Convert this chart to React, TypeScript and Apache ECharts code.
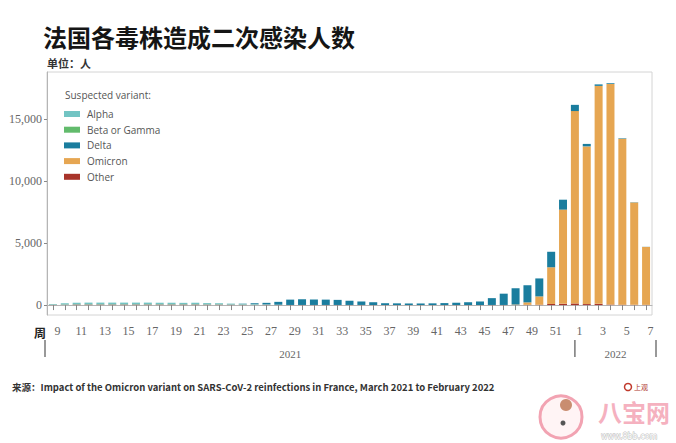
import React, { useEffect, useRef } from 'react';
import * as echarts from 'echarts';

const weeks = ['9','10','11','12','13','14','15','16','17','18','19','20','21','22','23','24','25','26','27','28','29','30','31','32','33','34','35','36','37','38','39','40','41','42','43','44','45','46','47','48','49','50','51','52','1','2','3','4','5','6','7'];

const other = [20,35,40,40,40,40,40,40,40,40,40,40,40,35,35,30,25,25,20,10, 10,10,10,10,10,10,10,5,5,5,5,5,5,5,5,5,5,10,10,10, 20,30,90,100, 130,80,100,40,30,20,20];
const beta = [10,15,20,20,20,20,20,20,20,20,20,20,20,15,15,10,10,10,5,5, 0,0,0,0,0,0,0,0,0,0,0,0,0,0,0,0,0,0,0,0, 0,0,0,0, 0,0,0,0,0,0,0];
const alpha = [50,100,130,140,140,140,140,140,140,130,130,120,130,110,100,80,65,55,35,15, 0,0,0,0,0,0,0,0,0,0,0,0,0,0,0,0,0,0,0,0, 0,0,0,0, 0,0,0,0,0,0,0];
const delta = [0,0,0,0,0,0,0,0,0,0,0,0,0,0,0,0,20,60,120,230, 430,460,440,430,410,340,280,225,145,135,125,125,135,155,185,225,285,550,910,1310, 1380,1450,1250,800, 500,200,120,60,40,20,10];
const omicron = [0,0,0,0,0,0,0,0,0,0,0,0,0,0,0,0,0,0,0,0, 0,0,0,0,0,0,0,0,0,0,0,0,0,0,0,0,0,0,0,30, 200,670,2960,7600, 15520,12720,17580,17800,13380,8260,4670];

const yTicks = [0, 5000, 10000, 15000];
const legendOrder = ['Alpha', 'Beta or Gamma', 'Delta', 'Omicron', 'Other'];

const COLORS: Record<string, string> = {
  Alpha: '#72c4c3',
  'Beta or Gamma': '#62bb6c',
  Delta: '#1a7d9e',
  Omicron: '#e6a652',
  Other: '#a8342a',
};

const GRID_LEFT = 47;
const GRID_RIGHT = 24;
const W = 676;

export default function App() {
  const ref = useRef<HTMLDivElement>(null);
  useEffect(() => {
    if (!ref.current) return;
    const chart = echarts.init(ref.current, null, { renderer: 'svg' });
    const serif = 'Liberation Serif';
    const mk = (name: string, data: number[]) => ({
      name,
      type: 'bar',
      stack: 'total',
      data,
      barWidth: 8,
      itemStyle: { color: COLORS[name] },
    });
    chart.setOption({
      animation: false,
      backgroundColor: '#ffffff',
      grid: { left: GRID_LEFT, right: GRID_RIGHT, top: 72, bottom: 128, show: true, borderColor: '#d4d4d4', borderWidth: 1 },
      legend: {
        orient: 'vertical', left: 64, top: 108, padding: 0,
        itemWidth: 16, itemHeight: 6, itemGap: 3.7, icon: 'rect',
        selectedMode: false,
        data: legendOrder,
        textStyle: { fontSize: 10, color: '#555', fontFamily: 'Open Sans', lineHeight: 12, padding: [0, 0, 0, 2] },
      },
      xAxis: {
        type: 'category',
        data: weeks,
        axisLine: { show: true, lineStyle: { color: '#b5b5b5' } },
        axisTick: { show: true, interval: 0, alignWithLabel: true, length: 5, lineStyle: { color: '#888' } },
        axisLabel: { interval: 1, margin: 10, color: '#666', fontSize: 12, fontFamily: serif, padding: [0, 0, 0, 9] },
      },
      yAxis: {
        type: 'value', min: -800, max: 18800,
        splitLine: { show: false },
        axisLine: { show: true, lineStyle: { color: '#b5b5b5' } },
        axisTick: { show: true, length: 3, customValues: yTicks, lineStyle: { color: '#888' } },
        axisLabel: {
          customValues: yTicks, margin: 5, color: '#666', fontSize: 12, fontFamily: serif,
          formatter: (v: number) => v.toLocaleString('en-US'),
        },
      },
      series: [
        mk('Other', other),
        mk('Omicron', omicron),
        mk('Beta or Gamma', beta),
        mk('Alpha', alpha),
        mk('Delta', delta),
      ],
    });

    const x1 = chart.convertToPixel({ xAxisIndex: 0 }, weeks.indexOf('1')) as number;
    const x29 = chart.convertToPixel({ xAxisIndex: 0 }, weeks.indexOf('29')) as number;
    const leftSep = GRID_LEFT - 2;
    const rightSep = W - GRID_RIGHT + 4;
    const sepStyle = { stroke: '#777', lineWidth: 1.5 };

    chart.setOption({
      graphic: [
        { type: 'text', x: 43, y: 36, style: { text: '法国各毒株造成二次感染人数', fontSize: 24, fontWeight: 'bold', fontFamily: 'Noto Sans CJK SC', fill: '#151515', verticalAlign: 'middle' } },
        { type: 'text', x: 47, y: 63, style: { text: '单位：人', fontSize: 11, fontWeight: 'bold', fontFamily: 'Noto Sans CJK SC', fill: '#333', verticalAlign: 'middle' } },
        { type: 'text', x: 65, y: 95, style: { text: 'Suspected variant:', fontSize: 10, fontFamily: 'Open Sans', fill: '#555', verticalAlign: 'middle' } },
        { type: 'text', x: 34, y: 332, style: { text: '周', fontSize: 12, fontWeight: 'bold', fontFamily: 'Noto Sans CJK SC', fill: '#222', verticalAlign: 'middle' } },
        { type: 'line', shape: { x1: leftSep, y1: 340, x2: leftSep, y2: 357 }, style: sepStyle },
        { type: 'line', shape: { x1: x1, y1: 340, x2: x1, y2: 357 }, style: sepStyle },
        { type: 'line', shape: { x1: rightSep, y1: 340, x2: rightSep, y2: 357 }, style: sepStyle },
        { type: 'text', x: x29, y: 354, style: { text: '2021', fontSize: 11, fontFamily: serif, fill: '#666', align: 'center', verticalAlign: 'middle' } },
        { type: 'text', x: (x1 + rightSep) / 2, y: 354, style: { text: '2022', fontSize: 11, fontFamily: serif, fill: '#666', align: 'center', verticalAlign: 'middle' } },
        { type: 'text', x: 12, y: 387, style: { text: '来源：Impact of the Omicron variant on SARS-CoV-2 reinfections in France, March 2021 to February 2022', fontSize: 9.5, fontWeight: 'bold', fontFamily: 'Noto Sans CJK SC', fill: '#333', verticalAlign: 'middle' } },
        { type: 'circle', shape: { cx: 628, cy: 387, r: 3.5 }, style: { fill: 'none', stroke: '#c0392b', lineWidth: 1.5 } },
        { type: 'text', x: 634, y: 387, style: { text: '上观', fontSize: 7, fontFamily: 'Noto Sans CJK SC', fill: '#b03a2e', verticalAlign: 'middle' } },
        { type: 'circle', shape: { cx: 561, cy: 417, r: 21 }, style: { fill: '#fff4f5', stroke: '#f2a3b2', lineWidth: 3 } },
        { type: 'circle', shape: { cx: 566, cy: 405, r: 6 }, style: { fill: '#c98d70' } },
        { type: 'circle', shape: { cx: 563, cy: 423, r: 2.5 }, style: { fill: '#555' } },
        { type: 'text', x: 598, y: 411, style: { text: '八宝网', fontSize: 24, fontWeight: 'bold', fontFamily: 'Noto Sans CJK SC', fill: '#f5b1bf', verticalAlign: 'middle' } },
        { type: 'text', x: 601, y: 436, style: { text: 'www.8bb.com', fontSize: 8, fontFamily: 'DejaVu Sans', fill: '#ffffff', stroke: '#b8b8b8', lineWidth: 0.8, verticalAlign: 'middle' } },
      ],
    });
    return () => chart.dispose();
  }, []);
  return <div ref={ref} style={{ position: 'absolute', left: 0, top: 0, width: 676, height: 443, background: '#fff' }} />;
}
